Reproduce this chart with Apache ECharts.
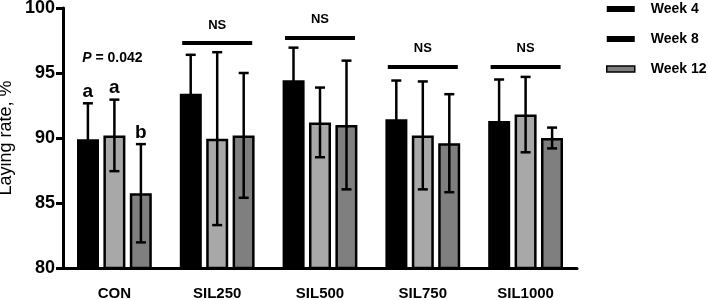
<!DOCTYPE html>
<html>
<head>
<meta charset="utf-8">
<script src="https://cdn.jsdelivr.net/npm/echarts@6/dist/echarts.min.js"></script>
<style>
  html, body { margin: 0; padding: 0; background: #fff; }
  #main { width: 708px; height: 300px; }
</style>
</head>
<body>
<div id="main"></div>
<script>
// data
var categories = ["CON", "SIL250", "SIL500", "SIL750", "SIL1000"];
var week4 = [89.9, 93.4, 94.45, 91.45, 91.3];
var week4Err = [2.77, 3.0, 2.5, 2.97, 3.2];
var week8 = [90.2, 89.95, 91.2, 90.2, 91.8];
var week8Err = [2.75, 6.65, 2.68, 4.15, 2.9];
var week12 = [85.75, 90.2, 91.0, 89.6, 90.0];
var week12Err = [3.78, 4.8, 4.95, 3.77, 0.8];
var letters = [["a", "a", "b"], null, null, null, null];
var nsLevel = [null, 97.3, 97.7, 95.47, 95.47];
var pLevel = [96.15, null, null, null, null];
var yTicks = [80, 85, 90, 95, 100];

var FONT = "Liberation Sans, Arial, sans-serif";
var barW = 22, barStep = 26.5;

var myChart = echarts.init(document.getElementById("main"));

var weeks = [
  { name: "Week 4", data: week4, err: week4Err, color: "#000000" },
  { name: "Week 8", data: week8, err: week8Err, color: "#a8a8a8" },
  { name: "Week 12", data: week12, err: week12Err, color: "#7f7f7f" },
];

var series = [];
weeks.forEach(function (w) {
  series.push({
    name: w.name,
    type: "bar",
    data: w.data,
    barWidth: barW,
    barGap: "20%",
    itemStyle: { color: w.color, borderColor: "#000", borderWidth: 2.5 },
    z: 2,
  });
});

// error bars + letters
weeks.forEach(function (w, k) {
  var errData = w.data.map(function (v, i) {
    return [i, v, w.err[i]];
  });
  series.push({
    type: "custom",
    name: w.name + " err",
    data: errData,
    z: 5,
    silent: true,
    renderItem: function (params, api) {
      var i = api.value(0);
      var mean = api.value(1);
      var e = api.value(2);
      var off = (k - 1) * barStep;
      var top = api.coord([i, mean + e]);
      var bot = api.coord([i, mean - e]);
      var x = top[0] + off;
      var style = { stroke: "#000", lineWidth: 2.5 };
      var children = [
        { type: "line", shape: { x1: x, y1: top[1], x2: x, y2: bot[1] }, style: style },
        { type: "line", shape: { x1: x - 5, y1: top[1], x2: x + 5, y2: top[1] }, style: style },
        { type: "line", shape: { x1: x - 5, y1: bot[1], x2: x + 5, y2: bot[1] }, style: style },
      ];
      var lt = letters[i];
      if (lt && lt[k]) {
        children.push({
          type: "text",
          style: {
            text: lt[k], x: x, y: top[1] - 2,
            align: "center", verticalAlign: "bottom",
            font: "bold 19px " + FONT, fill: "#000",
          },
        });
      }
      return { type: "group", children: children };
    },
  });
});

// NS brackets and P value
var annData = categories.map(function (c, i) {
  return [i, nsLevel[i] == null ? 0 : nsLevel[i], pLevel[i] == null ? 0 : pLevel[i]];
});
series.push({
  type: "custom",
  name: "annot",
  data: annData,
  z: 6,
  silent: true,
  renderItem: function (params, api) {
    var i = api.value(0);
    var children = [];
    if (nsLevel[i] != null) {
      var p = api.coord([i, nsLevel[i]]);
      children.push({
        type: "line",
        shape: { x1: p[0] - 35, y1: p[1], x2: p[0] + 35, y2: p[1] },
        style: { stroke: "#000", lineWidth: 4 },
      });
      children.push({
        type: "text",
        style: {
          text: "NS", x: p[0], y: p[1] - 18,
          align: "center", verticalAlign: "middle",
          font: "bold 13px " + FONT, fill: "#000",
        },
      });
    }
    if (pLevel[i] != null) {
      var q = api.coord([i, pLevel[i]]);
      children.push({
        type: "text",
        style: {
          text: "{i|P} = 0.042", x: q[0] - 2, y: q[1],
          align: "center", verticalAlign: "middle",
          font: "bold 14px " + FONT, fill: "#000",
          rich: { i: { fontStyle: "italic", fontWeight: "bold", fontSize: 14, fontFamily: FONT } },
        },
      });
    }
    return { type: "group", children: children };
  },
});

var option = {
  animation: false,
  grid: { left: 63, right: 131, top: 8, bottom: 32, outerBoundsMode: "none", containLabel: false },
  legend: {
    orient: "vertical",
    left: 606,
    top: 2,
    padding: 0,
    itemWidth: 28,
    itemHeight: 6,
    itemGap: 16,
    icon: "rect",
    textStyle: { fontFamily: FONT, fontWeight: "bold", fontSize: 14, color: "#000", padding: [0, 0, 0, 11] },
    data: [
      { name: "Week 4", itemStyle: { color: "#000", borderColor: "#000", borderWidth: 0 } },
      { name: "Week 8", itemStyle: { color: "#000", borderColor: "#000", borderWidth: 0 } },
      { name: "Week 12", itemStyle: { color: "#7f7f7f", borderColor: "#000", borderWidth: 1.5 } },
    ],
  },
  xAxis: {
    type: "category",
    data: categories,
    axisLine: { lineStyle: { color: "#000", width: 3 } },
    axisTick: { alignWithLabel: true, length: 11, lineStyle: { color: "#000", width: 3 } },
    axisLabel: { margin: 18, fontFamily: FONT, fontWeight: "bold", fontSize: 15, color: "#000" },
  },
  yAxis: {
    type: "value",
    min: yTicks[0],
    max: yTicks[yTicks.length - 1],
    interval: 5,
    name: "Laying rate, %",
    nameLocation: "middle",
    nameGap: 48,
    nameMoveOverlap: false,
    nameTextStyle: { fontFamily: FONT, fontSize: 18, color: "#000" },
    axisLine: { show: true, lineStyle: { color: "#000", width: 3 } },
    axisTick: { show: true, length: 7, lineStyle: { color: "#000", width: 3 } },
    axisLabel: { margin: 8, fontFamily: FONT, fontWeight: "bold", fontSize: 18, color: "#000" },
    splitLine: { show: false },
  },
  series: series,
};

myChart.setOption(option);
window.addEventListener("resize", myChart.resize);
</script>
</body>
</html>
